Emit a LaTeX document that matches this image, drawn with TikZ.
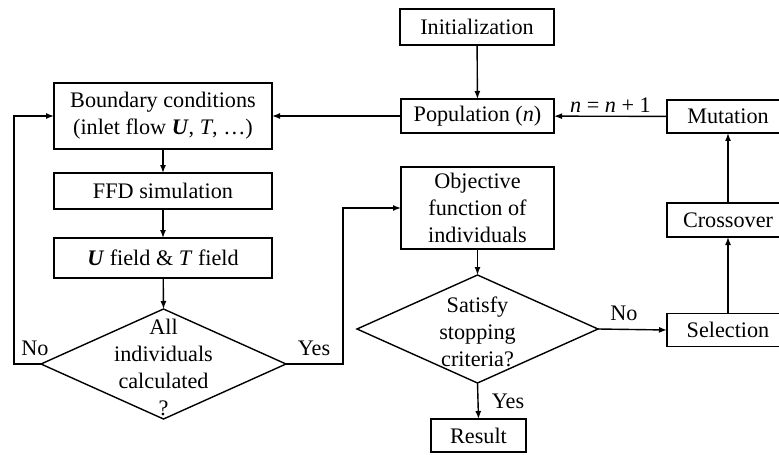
\documentclass[tikz,border=0pt]{standalone}
\usepackage{fontspec}
\setmainfont{Liberation Serif}
\usetikzlibrary{arrows.meta,shapes.geometric}
\begin{document}
\begin{tikzpicture}[x=0.5pt,y=-0.5pt,
  font=\fontsize{11.1}{13.5}\selectfont,
  every node/.style={inner sep=0pt,outer sep=0pt},
  box/.style={draw,line width=0.7pt,align=center,fill=white},
  dia/.style={draw,line width=0.7pt,shape=diamond,inner sep=0pt},
  txt/.style={align=center},
  arr/.style={line width=0.7pt,-{Latex[length=4pt,width=3pt]}},
  ln/.style={line width=0.7pt}]
\useasboundingbox (0,0) rectangle (779,454);
% right column
\node[box,minimum width=77pt,minimum height=18pt] (init) at (477,27) {Initialization};
\node[box,minimum width=76.5pt,minimum height=17pt] (pop) at (477.5,116) {Population (\textit{n})};
\node[box,minimum width=61pt,minimum height=16.5pt] (mut) at (728,116.5) {Mutation};
\node[box,minimum width=61pt,minimum height=17pt] (cross) at (728,220) {Crossover};
\node[box,minimum width=61pt,minimum height=16.5pt] (sel) at (728,330) {Selection};
\node[box,minimum width=76.5pt,minimum height=41pt] (obj) at (477.5,208) {Objective\\function of\\individuals};
\node[dia,minimum width=120.5pt,minimum height=54pt] (sat) at (477.5,329) {};
\node[txt] (satt) at (477.5,332) {Satisfy\\stopping\\criteria?};
\node[box,minimum width=47.5pt,minimum height=16.5pt] (res) at (478.5,435.5) {Result};
% left column
\node[box,minimum width=109pt,minimum height=33pt] (bound) at (163,116) {Boundary conditions\\(inlet flow \textbf{\textit{U}}, \textit{T}, …)};
\node[box,minimum width=109pt,minimum height=18pt] (ffd) at (163,191) {FFD simulation};
\node[box,minimum width=109pt,minimum height=20pt] (uf) at (163,258) {\textbf{\textit{U}} field \& \textit{T} field};
\node[dia,minimum width=122.5pt,minimum height=55pt] (all) at (163.5,364) {};
\node[txt] (allt) at (163.5,367) {All\\individuals\\calculated\\?};
% connectors
\draw[arr] (init) -- (pop);
\draw[arr] (mut) -- node[above=2pt] (nlab) {\textit{n} = \textit{n} + 1} (pop);
\draw[arr] (pop) -- (bound);
\draw[arr] (bound) -- (ffd);
\draw[arr] (ffd) -- (uf);
\draw[arr] (uf) -- (all.north);
\coordinate (c1) at (14,364);
\coordinate (c2) at (343,364);
\draw[arr] (all.west) -- (c1) |- (bound.west);
\draw[arr] (all.east) -- (c2) |- (obj.west);
\draw[arr] (obj) -- (sat.north);
\draw[arr] (sat.east) -- (sel.west);
\draw[arr] (sat.south) -- (res.north);
\draw[arr] (sel) -- (cross);
\draw[arr] (cross) -- (mut);
% labels
\node (no1) at (35,348) {No};
\node (yes1) at (314,348) {Yes};
\node (no2) at (624,313) {No};
\node (yes2) at (508,401) {Yes};
\end{tikzpicture}
\end{document}
